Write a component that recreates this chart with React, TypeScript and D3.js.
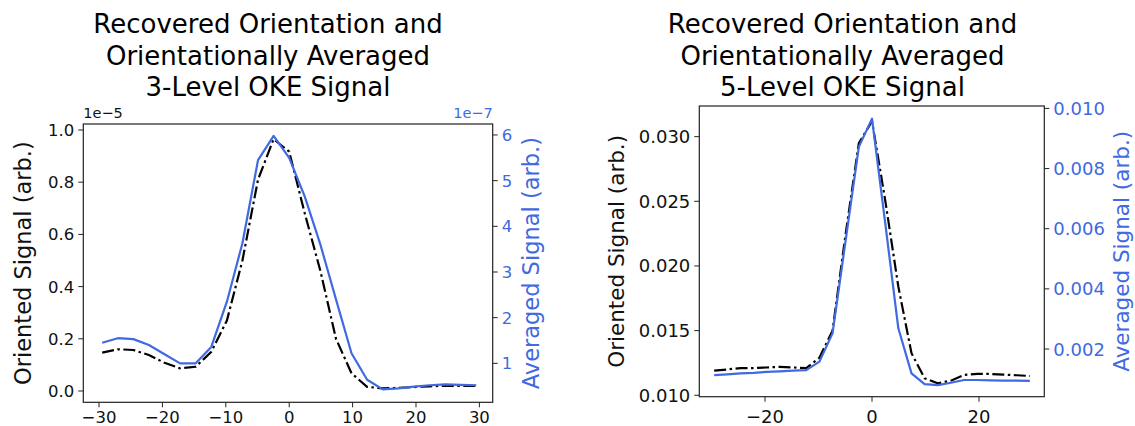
import React from "react";
import * as d3 from "d3";

// ---- data ----
const delays = [-29.5, -27.04, -24.58, -22.13, -19.67, -17.21, -14.75, -12.29, -9.83, -7.38, -4.92, -2.46, 0, 2.46, 4.92, 7.38, 9.83, 12.29, 14.75, 17.21, 19.67, 22.13, 24.58, 27.04, 29.5];

// 3-level (left panel); oriented in units of 1e-5, averaged in units of 1e-7
const oriented3 = [0.147, 0.16, 0.157, 0.138, 0.108, 0.087, 0.093, 0.15, 0.27, 0.5, 0.81, 0.965, 0.917, 0.68, 0.46, 0.2, 0.068, 0.016, 0.01, 0.012, 0.015, 0.018, 0.02, 0.02, 0.02];
const averaged3 = [1.45, 1.55, 1.53, 1.4, 1.2, 1.0, 1.0, 1.36, 2.35, 3.63, 5.45, 5.98, 5.5, 4.65, 3.6, 2.4, 1.22, 0.64, 0.43, 0.45, 0.49, 0.52, 0.54, 0.53, 0.52];

// 5-level (right panel)
const oriented5 = [0.0119, 0.012, 0.0121, 0.0121, 0.01215, 0.0122, 0.01215, 0.0121, 0.0129, 0.015, 0.0225, 0.0295, 0.0312, 0.0251, 0.0184, 0.01325, 0.01131, 0.01093, 0.01113, 0.01157, 0.01165, 0.01165, 0.0116, 0.01155, 0.01149];
const averaged5 = [0.00113, 0.00116, 0.00119, 0.00121, 0.00124, 0.00126, 0.00128, 0.0013, 0.00158, 0.00252, 0.00562, 0.00872, 0.00966, 0.0062, 0.00269, 0.00119, 0.00083, 0.0008, 0.00088, 0.00097, 0.00097, 0.00096, 0.00095, 0.00095, 0.00094];

const xTicks3 = [-30, -20, -10, 0, 10, 20, 30];
const yLeftTicks3 = [0, 0.2, 0.4, 0.6, 0.8, 1.0];
const yRightTicks3 = [1, 2, 3, 4, 5, 6];
const xTicks5 = [-20, 0, 20];
const yLeftTicks5 = [0.01, 0.015, 0.02, 0.025, 0.03];
const yRightTicks5 = [0.002, 0.004, 0.006, 0.008, 0.01];

const title3 = ["Recovered Orientation and", "Orientationally Averaged", "3-Level OKE Signal"];
const title5 = ["Recovered Orientation and", "Orientationally Averaged", "5-Level OKE Signal"];

const BLUE = "#4169E1";
const FONT = "DejaVu Sans, sans-serif";

const fmtMinus = (s: string) => s.replace("-", "\u2212");

type PanelProps = {
  box: { l: number; r: number; t: number; b: number };
  xDom: [number, number];
  yLDom: [number, number];
  yRDom: [number, number];
  xTicks: number[];
  yLTicks: number[];
  yRTicks: number[];
  fmtL: (v: number) => string;
  fmtR: (v: number) => string;
  oriented: number[];
  averaged: number[];
  title: string[];
  titleX: number;
  tickFs: number;
  labelFs: number;
  leftLabelX: number;
  rightLabelX: number;
  xLabelY: number;
  offsetL?: string;
  offsetR?: string;
};

function Panel(p: PanelProps) {
  const { box } = p;
  const x = d3.scaleLinear().domain(p.xDom).range([box.l, box.r]);
  const yL = d3.scaleLinear().domain(p.yLDom).range([box.b, box.t]);
  const yR = d3.scaleLinear().domain(p.yRDom).range([box.b, box.t]);
  const lineL = d3.line<number>().x((_, i) => x(delays[i])).y((d) => yL(d));
  const lineR = d3.line<number>().x((_, i) => x(delays[i])).y((d) => yR(d));
  const tl = 5;
  const cy = (box.t + box.b) / 2;
  return (
    <g fontFamily={FONT}>
      {p.title.map((t, i) => (
        <text key={i} x={p.titleX} y={33 + i * 31.5} fontSize={26} textAnchor="middle" fill="#000">
          {t}
        </text>
      ))}
      <path d={lineL(p.oriented) || ""} fill="none" stroke="#000" strokeWidth={2.2} strokeDasharray="12,3.5,2.5,3.5" />
      <path d={lineR(p.averaged) || ""} fill="none" stroke={BLUE} strokeWidth={2.2} strokeLinejoin="round" />
      <rect x={box.l} y={box.t} width={box.r - box.l} height={box.b - box.t} fill="none" stroke="#222" strokeWidth={1.2} />
      {p.xTicks.map((v) => (
        <g key={"x" + v}>
          <line x1={x(v)} x2={x(v)} y1={box.b} y2={box.b + tl} stroke="#222" strokeWidth={1} />
          <text x={x(v)} y={p.xLabelY} fontSize={p.tickFs} textAnchor="middle" fill="#111">
            {fmtMinus(String(v))}
          </text>
        </g>
      ))}
      {p.yLTicks.map((v) => (
        <g key={"l" + v}>
          <line x1={box.l - tl} x2={box.l} y1={yL(v)} y2={yL(v)} stroke="#222" strokeWidth={1} />
          <text x={box.l - tl - 4} y={yL(v)} dy="0.36em" fontSize={p.tickFs} textAnchor="end" fill="#111">
            {p.fmtL(v)}
          </text>
        </g>
      ))}
      {p.yRTicks.map((v) => (
        <g key={"r" + v}>
          <line x1={box.r} x2={box.r + tl} y1={yR(v)} y2={yR(v)} stroke="#222" strokeWidth={1} />
          <text x={box.r + tl + 4} y={yR(v)} dy="0.36em" fontSize={p.tickFs} textAnchor="start" fill={BLUE}>
            {p.fmtR(v)}
          </text>
        </g>
      ))}
      <text
        transform={`translate(${p.leftLabelX},${cy}) rotate(-90)`}
        fontSize={p.labelFs}
        textAnchor="middle"
        dy="0.35em"
        fill="#111"
      >
        Oriented Signal (arb.)
      </text>
      <text
        transform={`translate(${p.rightLabelX},${cy}) rotate(-90)`}
        fontSize={p.labelFs}
        textAnchor="middle"
        dy="0.35em"
        fill={BLUE}
      >
        Averaged Signal (arb.)
      </text>
      {p.offsetL && (
        <text x={box.l} y={box.t - 6} fontSize={14.5} fill="#111">
          {p.offsetL}
        </text>
      )}
      {p.offsetR && (
        <text x={box.r} y={box.t - 6} fontSize={14.5} textAnchor="end" fill={BLUE}>
          {p.offsetR}
        </text>
      )}
    </g>
  );
}

export default function App() {
  return (
    <svg width={1135} height={426} style={{ position: "absolute", left: 0, top: 0, background: "#fff" }}>
      <rect x={0} y={0} width={1135} height={426} fill="#fff" />
      <Panel
        box={{ l: 83.3, r: 492.7, t: 124, b: 402.3 }}
        xDom={[-32.48, 32.1]}
        yLDom={[-0.0433, 1.023]}
        yRDom={[0.147, 6.24]}
        xTicks={xTicks3}
        yLTicks={yLeftTicks3}
        yRTicks={yRightTicks3}
        fmtL={(v) => v.toFixed(1)}
        fmtR={(v) => String(v)}
        oriented={oriented3}
        averaged={averaged3}
        title={title3}
        titleX={268}
        tickFs={16.5}
        labelFs={22.5}
        leftLabelX={23}
        rightLabelX={531}
        xLabelY={423}
        offsetL={"1e\u22125"}
        offsetR={"1e\u22127"}
      />
      <Panel
        box={{ l: 699.3, r: 1044.3, t: 106, b: 396.7 }}
        xDom={[-32.28, 32.2]}
        yLDom={[0.00989, 0.03237]}
        yRDom={[0.000415, 0.01008]}
        xTicks={xTicks5}
        yLTicks={yLeftTicks5}
        yRTicks={yRightTicks5}
        fmtL={(v) => v.toFixed(3)}
        fmtR={(v) => v.toFixed(3)}
        oriented={oriented5}
        averaged={averaged5}
        title={title5}
        titleX={842.5}
        tickFs={18}
        labelFs={21.5}
        leftLabelX={616}
        rightLabelX={1121}
        xLabelY={423}
      />
    </svg>
  );
}
